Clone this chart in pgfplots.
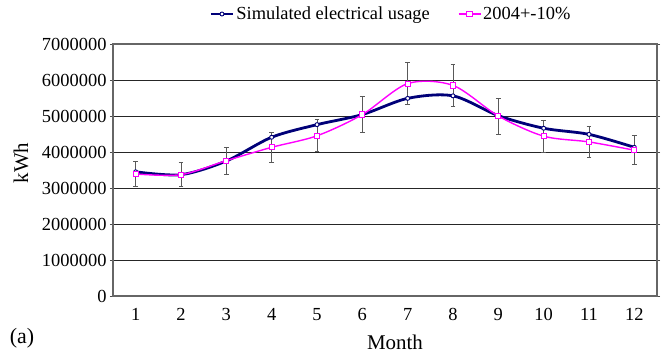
\documentclass[border=0pt]{standalone}
\usepackage{pgfplots}
\pgfplotsset{compat=1.18}
\usepackage{pgfplotstable}
\usepackage{fontspec}
\setmainfont{Liberation Serif}
\definecolor{navyline}{RGB}{0,0,120}
\definecolor{magline}{RGB}{255,0,255}

\pgfplotstableread{
x y
1 3450000
2 3370000
3 3750000
4 4410000
5 4760000
6 5040000
7 5490000
8 5560000
9 5010000
10 4660000
11 4490000
12 4130000
}\simdata

\pgfplotstableread{
x y e
1 3390000 339000
2 3370000 337000
3 3760000 376000
4 4130000 413000
5 4450000 445000
6 5040000 504000
7 5900000 590000
8 5850000 585000
9 5000000 500000
10 4440000 444000
11 4280000 428000
12 4050000 405000
}\obsdata

\begin{document}
\begin{tikzpicture}
\useasboundingbox (-113bp,-60bp) rectangle (553bp,296bp);
\begin{axis}[
  scale only axis,
  width=544bp, height=252bp,
  xmin=0.5, xmax=12.5,
  ymin=0, ymax=7000000,
  xtick={1,...,12},
  ytick={0,1000000,...,7000000},
  scaled y ticks=false,
  /pgf/number format/fixed,
  /pgf/number format/1000 sep={},
  /pgf/number format/assume math mode=true,
  ymajorgrids,
  grid style={black!85, line width=0.8bp},
  axis line style={black!60, line width=1.2bp},
  xtick style={draw=none},
  ytick style={black!70, line width=0.8bp},
  tick align=outside,
  major tick length=3bp,
  tick label style={font=\fontsize{18.5}{20}\selectfont, black},
  xticklabel style={yshift=-6bp},
  legend columns=2,
  legend style={draw=none, fill=none, at={(axis description cs:0.511,1.119)}, anchor=center,
    font=\fontsize{18.5}{20}\selectfont, inner sep=0pt,
    /tikz/every even column/.append style={column sep=26bp}},
  legend image code/.code={%
    \draw[mark repeat=2,mark phase=2] plot coordinates {(0bp,0bp) (11bp,0bp) (22bp,0bp)};},
]
\addplot[navyline, line width=2.8bp, smooth, mark=*, mark size=2bp,
  mark options={fill=white, draw=navyline, line width=0.9bp}]
  table[x=x,y=y]{\simdata};
\addlegendentry{Simulated electrical usage}
\addplot[magline, line width=1.4bp, smooth, mark=square*, mark size=2.6bp,
  mark options={fill=white, draw=magline, line width=1bp},
  error bars/.cd, y dir=both, y explicit,
  error bar style={black!65, line width=0.9bp},
  error mark options={rotate=90, mark size=2.4bp, black!65, line width=0.9bp}]
  table[x=x,y=y,y error=e]{\obsdata};
\addlegendentry{2004+-10\%}
\end{axis}
\node[font=\fontsize{21}{22}\selectfont] at (282bp,-46bp) {Month};
\node[font=\fontsize{21}{22}\selectfont, rotate=90] at (-92bp,133bp) {kWh};
\node[font=\fontsize{22}{22}\selectfont] at (-91bp,-42bp) {(a)};
\end{tikzpicture}
\end{document}
